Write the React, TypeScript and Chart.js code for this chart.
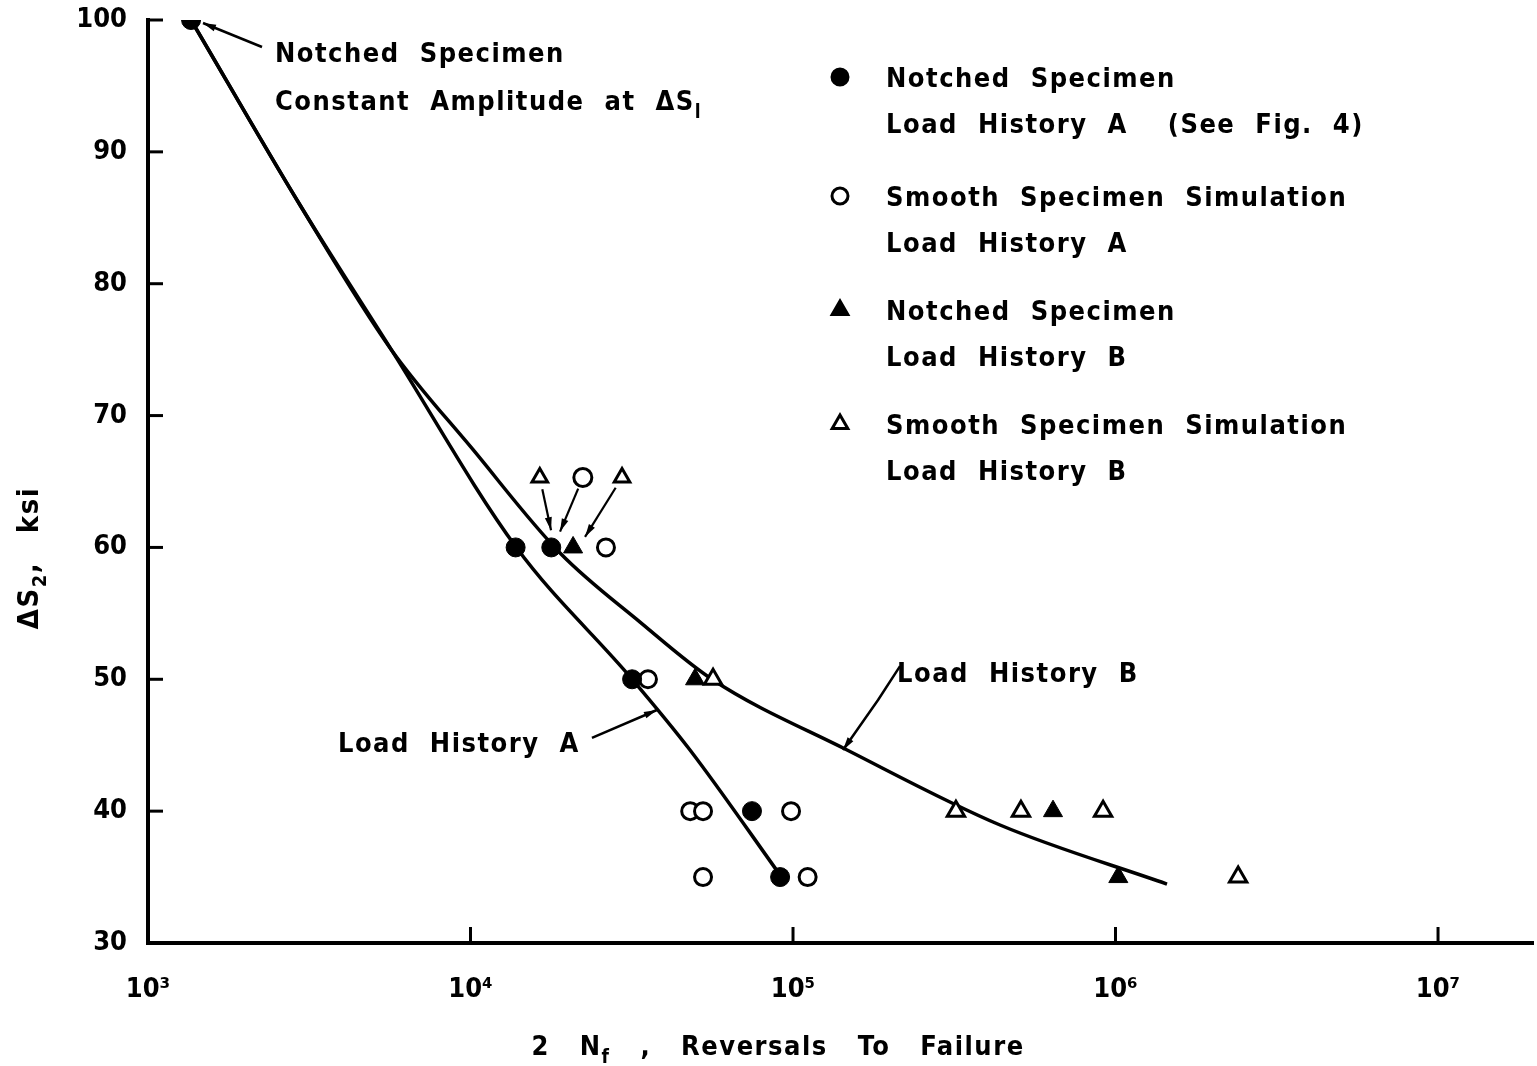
import React, { useEffect, useRef } from 'react';
import { Chart, registerables } from 'chart.js';

Chart.register(...registerables);

// ---------- data ----------
const xTickValues = [1e3, 1e4, 1e5, 1e6, 1e7];
const xTickLabels = ['10³', '10⁴', '10⁵', '10⁶', '10⁷'];
const yTickValues = [30, 40, 50, 60, 70, 80, 90, 100];
const yTickLabels = ['30', '40', '50', '60', '70', '80', '90', '100'];

// Notched specimen, load history A (filled circles)
const notchedAX = [1360, 13800, 17800, 31700, 74600, 91200];
const notchedAY = [100, 60, 60, 50, 40, 35];
// Smooth specimen simulation, load history A (open circles)
const smoothAX = [26300, 35500, 48000, 52600, 98600, 52600, 111000];
const smoothAY = [60, 50, 40, 40, 40, 35, 35];
// Notched specimen, load history B (filled triangles)
const notchedBX = [20800, 49700, 640000, 1020000];
const notchedBY = [60, 50, 40, 35];
// Smooth specimen simulation, load history B (open triangles)
const smoothBX = [56500, 320000, 509000, 915000, 2400000];
const smoothBY = [50, 40, 40, 40, 35];

// Fitted curves
const curveAX = [1360, 2960, 5680, 13840, 31680, 47930, 94450];
const curveAY = [100, 85.97, 75.0, 60.03, 50.02, 44.64, 34.63];
const curveBX = [1360, 2960, 5680, 10200, 18950, 33550, 56480, 147100, 438400, 1444000];
const curveBY = [100, 85.97, 75.0, 67.39, 59.58, 54.34, 49.95, 44.64, 38.95, 34.47];

// Call-out markers above the 60 ksi cluster (open triangle, open circle, open triangle)
const calloutX = [16400, 22300, 29500];
const calloutY = [65.3, 65.3, 65.3];
const calloutKinds = ['openTriangle', 'openCircle', 'openTriangle'];
const calloutTipX = [17770, 18950, 22650];
const calloutTipY = [61.3, 61.2, 60.8];

const FONT = '"DejaVu Sans Condensed", "DejaVu Sans", sans-serif';

const pts = (xs: number[], ys: number[]) => xs.map((x, i) => ({ x, y: ys[i] }));

type Pt = { x: number; y: number };

function drawMarker(ctx: CanvasRenderingContext2D, kind: string, x: number, y: number, r: number) {
  ctx.save();
  ctx.lineWidth = 3;
  ctx.strokeStyle = '#000';
  ctx.fillStyle = kind.startsWith('filled') ? '#000' : '#fff';
  ctx.beginPath();
  if (kind.endsWith('Circle')) {
    ctx.arc(x, y, r, 0, Math.PI * 2);
  } else {
    for (let k = 0; k < 3; k++) {
      const a = (k * 2 * Math.PI) / 3;
      const px = x + Math.sin(a) * r;
      const py = y - Math.cos(a) * r;
      if (k === 0) ctx.moveTo(px, py);
      else ctx.lineTo(px, py);
    }
    ctx.closePath();
  }
  ctx.fill();
  ctx.stroke();
  ctx.restore();
}

function arrow(ctx: CanvasRenderingContext2D, path: Pt[], head = 13, lw = 2.5) {
  ctx.save();
  ctx.strokeStyle = '#000';
  ctx.fillStyle = '#000';
  ctx.lineWidth = lw;
  ctx.lineJoin = 'round';
  ctx.beginPath();
  ctx.moveTo(path[0].x, path[0].y);
  for (let i = 1; i < path.length; i++) ctx.lineTo(path[i].x, path[i].y);
  ctx.stroke();
  const a = path[path.length - 2];
  const b = path[path.length - 1];
  const ang = Math.atan2(b.y - a.y, b.x - a.x);
  ctx.beginPath();
  ctx.moveTo(b.x, b.y);
  ctx.lineTo(b.x - head * Math.cos(ang) + 3.5 * Math.sin(ang), b.y - head * Math.sin(ang) - 3.5 * Math.cos(ang));
  ctx.lineTo(b.x - head * Math.cos(ang) - 3.5 * Math.sin(ang), b.y - head * Math.sin(ang) + 3.5 * Math.cos(ang));
  ctx.closePath();
  ctx.fill();
  ctx.restore();
}

function setFont(ctx: CanvasRenderingContext2D, size: number, ws = 10) {
  ctx.font = `bold ${size}px ${FONT}`;
  (ctx as any).letterSpacing = '1.5px';
  (ctx as any).wordSpacing = `${ws}px`;
  ctx.fillStyle = '#000';
}

// draw a run of text parts [text, isSub] left-aligned from x, returns end x
function drawRuns(ctx: CanvasRenderingContext2D, runs: [string, boolean][], x: number, y: number, size: number, ws = 10) {
  let cx = x;
  for (const [t, sub] of runs) {
    const s = sub ? Math.round(size * 0.7) : size;
    setFont(ctx, s, ws);
    ctx.textBaseline = 'alphabetic';
    ctx.fillText(t, cx, y + (sub ? size * 0.28 : 0));
    cx += ctx.measureText(t).width;
  }
  return cx;
}

function runsWidth(ctx: CanvasRenderingContext2D, runs: [string, boolean][], size: number, ws = 10) {
  let w = 0;
  for (const [t, sub] of runs) {
    setFont(ctx, sub ? Math.round(size * 0.7) : size, ws);
    w += ctx.measureText(t).width;
  }
  return w;
}

const plotNotes = [
  { runs: [['Notched Specimen', false]] as [string, boolean][], x: 2476, y: 97.57 },
  { runs: [['Constant Amplitude at ΔS', false], ['l', true]] as [string, boolean][], x: 2476, y: 93.93 },
  { runs: [['Load History A', false]] as [string, boolean][], x: 3881, y: 45.24 },
  { runs: [['Load History B', false]] as [string, boolean][], x: 210200, y: 50.55 },
];

const noteArrows = [
  [{ x: 2257, y: 97.95 }, { x: 1481, y: 99.77 }],
  [{ x: 23800, y: 45.55 }, { x: 37840, y: 47.67 }],
  [{ x: 214700, y: 51.0 }, { x: 183500, y: 48.43 }, { x: 142900, y: 44.64 }],
];

const legendItems = [
  { kind: 'filledCircle', r: 8, lines: ['Notched Specimen', 'Load History A  (See Fig. 4)'] },
  { kind: 'openCircle', r: 8, lines: ['Smooth Specimen Simulation', 'Load History A'] },
  { kind: 'filledTriangle', r: 9, lines: ['Notched Specimen', 'Load History B'] },
  { kind: 'openTriangle', r: 9, lines: ['Smooth Specimen Simulation', 'Load History B'] },
];

const annotPlugin = {
  id: 'annot',
  afterDraw(chart: any) {
    const { ctx, chartArea } = chart;
    const xs = chart.scales.x;
    const ys = chart.scales.y;
    const px = (v: number) => xs.getPixelForValue(v);
    const py = (v: number) => ys.getPixelForValue(v);
    ctx.save();

    // inward tick marks
    ctx.strokeStyle = '#000';
    ctx.lineWidth = 3;
    yTickValues.forEach((v) => {
      const yy = py(v);
      ctx.beginPath();
      ctx.moveTo(chartArea.left, yy);
      ctx.lineTo(chartArea.left + 15, yy);
      ctx.stroke();
    });
    xTickValues.slice(1).forEach((v) => {
      const xx = px(v);
      ctx.beginPath();
      ctx.moveTo(xx, chartArea.bottom);
      ctx.lineTo(xx, chartArea.bottom - 16);
      ctx.stroke();
    });

    // plot notes
    const size = 27;
    plotNotes.forEach((n) => {
      drawRuns(ctx, n.runs, px(n.x), py(n.y) + 10, size);
    });
    noteArrows.forEach((a) => arrow(ctx, a.map((p) => ({ x: px(p.x), y: py(p.y) }))));

    // call-out markers
    calloutX.forEach((v, i) => {
      const cx = px(v);
      const cy = py(calloutY[i]);
      const tip = { x: px(calloutTipX[i]), y: py(calloutTipY[i]) };
      const ang = Math.atan2(tip.y - cy, tip.x - cx);
      arrow(ctx, [{ x: cx + 12 * Math.cos(ang), y: cy + 12 * Math.sin(ang) }, tip], 13, 2.2);
      drawMarker(ctx, calloutKinds[i], cx, cy, 9);
    });

    // legend
    const lx = chartArea.left + 692;
    const tx = chartArea.left + 738;
    const rowY = [77, 196, 310, 424];
    legendItems.forEach((it, i) => {
      const y0 = chartArea.top - 20 + rowY[i];
      drawMarker(ctx, it.kind, lx, y0, it.r);
      drawRuns(ctx, [[it.lines[0], false]], tx, y0 + 10, size);
      drawRuns(ctx, [[it.lines[1], false]], tx, y0 + 56, size);
    });

    // x title
    const xRuns: [string, boolean][] = [['2 N', false], ['f', true], [' , Reversals To Failure', false]];
    const w = runsWidth(ctx, xRuns, size, 20);
    drawRuns(ctx, xRuns, 778 - w / 2, 1055, size, 20);

    // y title
    const ySize = 29;
    const yRuns: [string, boolean][] = [['ΔS', false], ['2', true], [', ksi', false]];
    const wy = runsWidth(ctx, yRuns, ySize, 18);
    ctx.save();
    ctx.translate(38, 558);
    ctx.rotate(-Math.PI / 2);
    drawRuns(ctx, yRuns, -wy / 2, 0, ySize, 18);
    ctx.restore();

    ctx.restore();
  },
};

export default function App() {
  const ref = useRef<HTMLCanvasElement | null>(null);
  useEffect(() => {
    if (!ref.current) return;
    const openStyle = { backgroundColor: '#fff', borderColor: '#000', borderWidth: 3 };
    const filledStyle = { backgroundColor: '#000', borderColor: '#000', borderWidth: 1 };
    const chart = new Chart(ref.current, {
      type: 'scatter',
      data: {
        datasets: [
          { label: 'Notched A', data: pts(notchedAX, notchedAY), pointStyle: 'circle', pointRadius: 9.5, ...filledStyle },
          { label: 'Smooth A', data: pts(smoothAX, smoothAY), pointStyle: 'circle', pointRadius: 8.5, ...openStyle },
          { label: 'Notched B', data: pts(notchedBX, notchedBY), pointStyle: 'triangle', pointRadius: 11, ...filledStyle },
          { label: 'Smooth B', data: pts(smoothBX, smoothBY), pointStyle: 'triangle', pointRadius: 10, ...openStyle },
          {
            label: 'Load History A',
            data: pts(curveAX, curveAY),
            showLine: true,
            pointRadius: 0,
            borderColor: '#000',
            borderWidth: 3.5,
            cubicInterpolationMode: 'monotone',
          },
          {
            label: 'Load History B',
            data: pts(curveBX, curveBY),
            showLine: true,
            pointRadius: 0,
            borderColor: '#000',
            borderWidth: 3.5,
            cubicInterpolationMode: 'monotone',
          },
        ] as any,
      },
      options: {
        responsive: false,
        animation: false,
        layout: { autoPadding: false, padding: { top: 20, right: 4, left: 0, bottom: 0 } },
        plugins: { legend: { display: false }, tooltip: { enabled: false } },
        scales: {
          x: {
            type: 'logarithmic',
            min: 1000,
            max: 1.97e7,
            grid: { display: false },
            border: { display: true, width: 4, color: '#000' },
            afterBuildTicks: (s: any) => {
              s.ticks = xTickValues.map((v) => ({ value: v }));
            },
            afterFit: (s: any) => {
              s.height = 123;
              s.paddingLeft = 0;
              s.paddingRight = 0;
            },
            ticks: {
              autoSkip: false,
              maxRotation: 0,
              padding: 23,
              color: '#000',
              font: { family: FONT, size: 27, weight: 'bold' },
              callback: (_v: any, i: number) => xTickLabels[i],
            },
          },
          y: {
            type: 'linear',
            min: 30,
            max: 100,
            grid: { display: false },
            border: { display: true, width: 4, color: '#000' },
            afterBuildTicks: (s: any) => {
              s.ticks = yTickValues.map((v) => ({ value: v }));
            },
            afterFit: (s: any) => {
              s.width = 148;
              s.paddingTop = 0;
              s.paddingBottom = 0;
            },
            ticks: {
              padding: 13,
              color: '#000',
              font: { family: FONT, size: 27, weight: 'bold' },
              callback: (_v: any, i: number) => yTickLabels[i],
            },
          },
        },
      } as any,
      plugins: [annotPlugin],
    });
    return () => chart.destroy();
  }, []);
  return (
    <div style={{ position: 'absolute', left: 0, top: 0, width: 1537, height: 1066, background: '#fff' }}>
      <canvas ref={ref} width={1537} height={1066} style={{ display: 'block' }} />
    </div>
  );
}
